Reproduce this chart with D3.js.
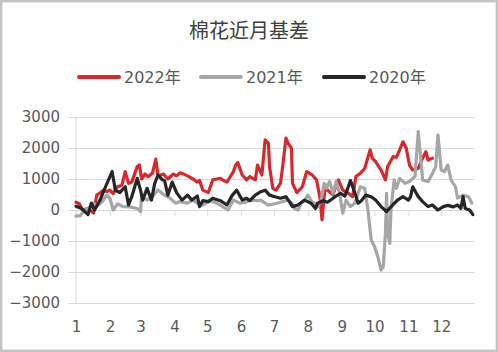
<!DOCTYPE html>
<html>
<head>
<meta charset="utf-8">
<script src="https://cdn.jsdelivr.net/npm/d3@7"></script>
<style>
  body { margin: 0; background: #fff; }
  svg { display: block; }
</style>
</head>
<body>
<div id="chart"></div>
<script>
// ---- data (day of year / basis value) ----
const monthStarts = [1, 32, 60, 91, 121, 152, 182, 213, 244, 274, 305, 335];
const monthLabels = ['1', '2', '3', '4', '5', '6', '7', '8', '9', '10', '11', '12'];
const yTicks = [-3000, -2000, -1000, 0, 1000, 2000, 3000];
const seriesNames = ['2022年', '2021年', '2020年'];

const days2022 = [1, 4, 7, 12, 17, 20, 23, 26, 29, 32, 35, 39, 43, 46, 49, 52, 57, 59, 61, 64, 67, 71, 74, 76, 81, 85, 90, 93, 96, 100,
  103, 108, 112, 114, 117, 122, 126, 130, 133, 136, 139, 145, 147, 149, 153, 157, 160, 165, 167, 171, 174, 177, 178, 181, 184, 188,
  190, 193, 195, 198, 199, 203, 208, 212, 217, 221, 224, 226, 229, 231, 236, 241, 245, 250, 254, 257, 261, 265, 270, 272, 275, 280,
  284, 286, 291, 294, 297, 300, 303, 306, 309, 314, 318, 321, 323, 327];
const values2022 = [250, 200, 0, 50, -100, 480, 550, 640, 600, 640, 530, 750, 800, 1240, 860, 900, 1400, 1450, 1000, 1160, 1070, 1200,
  1640, 1100, 1160, 1000, 1160, 1100, 1200, 1150, 1100, 1000, 900, 950, 640, 560, 970, 1000, 1020, 950, 900, 1240, 1450, 1530, 1130,
  970, 1080, 970, 1450, 1130, 2260, 2150, 1400, 700, 640, 860, 1400, 2320, 2150, 2000, 860, 560, 750, 1240, 1130, 970, 430, -320, 800,
  640, 500, 970, 640, 540, 430, 1080, 1180, 1340, 1940, 1670, 1560, 1290, 970, 1400, 1720, 1700, 1940, 2200, 2000, 1450, 1290, 1340,
  1670, 1880, 1610, 1670];

const days2021 = [1, 5, 9, 14, 17, 20, 25, 29, 32, 35, 39, 44, 50, 57, 60, 61, 66, 71, 76, 81, 87, 92, 96, 103, 108, 112, 117, 124,
  130, 135, 140, 145, 151, 156, 160, 167, 170, 174, 177, 183, 188, 195, 199, 201, 204, 207, 210, 213, 217, 220, 222, 225, 228, 230,
  233, 236, 239, 242, 245, 248, 252, 256, 261, 265, 268, 271, 274, 277, 280, 282, 284, 285, 286, 288, 289, 292, 294, 297, 302, 306,
  311, 314, 317, 318, 323, 327, 330, 332, 335, 338, 341, 344, 348, 350, 355, 360, 363];
const values2021 = [-200, -180, 0, 100, 230, 120, 270, 480, 380, 0, 200, 110, 100, 50, -50, 480, 320, 430, 650, 500, 380, 220, 270,
  220, 320, 220, 160, 300, 220, 110, 0, 320, 220, 250, 320, 300, 320, 220, 160, 200, 250, 320, 200, 50, 0, 220, 300, 480, 250, 220,
  100, 300, 860, 700, 920, 540, 920, 540, -100, 320, 110, 220, 750, 700, 0, -970, -1180, -1500, -1940, -1830, -750, 540, -750, -1080,
  0, 970, 700, 1020, 860, 920, 1080, 2530, 1400, 970, 920, 1180, 1400, 2420, 1290, 1240, 1450, 970, 750, 380, 480, 430, 220];

const days2020 = [1, 6, 12, 15, 18, 23, 28, 34, 37, 41, 46, 49, 52, 57, 60, 62, 66, 70, 73, 76, 80, 82, 85, 89, 93, 98, 103, 107,
  112, 114, 117, 122, 126, 133, 139, 144, 148, 153, 157, 160, 165, 170, 174, 178, 183, 188, 193, 197, 199, 204, 210, 216, 220, 222,
  227, 231, 238, 243, 247, 250, 252, 256, 259, 262, 266, 271, 275, 280, 285, 289, 295, 300, 305, 307, 309, 314, 318, 323, 327, 332,
  337, 341, 346, 350, 353, 355, 357, 361, 364];
const values2020 = [120, 50, -150, 220, 0, 320, 750, 1240, 640, 560, 750, 160, 430, 1020, 640, 320, 700, 320, 860, 1130, 970, 950,
  480, 900, 560, 320, 480, 320, 450, 110, 300, 270, 380, 300, 160, 480, 640, 320, 380, 300, 480, 590, 640, 480, 430, 380, 430, 220,
  110, 160, 320, 220, 50, 220, 300, 250, 430, 540, 450, 750, 950, 560, 220, 300, 480, 430, 320, 110, -50, 100, 320, 430, 320, 430,
  750, 430, 270, 110, 160, 0, 110, 150, 100, 160, 50, 430, 50, 0, -150];

const seriesDays = [days2022, days2021, days2020];
const seriesValues = [values2022, values2021, values2020];
const seriesColors = ['#d9282c', '#a6a6a6', '#262626'];

// ---- layout ----
const width = 498, height = 352;
const plot = { left: 76, right: 474, top: 117, bottom: 303 };
const gridLeft = 68;

const svg = d3.select('#chart')
  .append('svg')
  .attr('width', width)
  .attr('height', height);

svg.append('rect')
  .attr('x', 1.2).attr('y', 1.2)
  .attr('width', width - 2.4).attr('height', height - 2.4)
  .attr('fill', '#fff')
  .attr('stroke', '#c4c4c4')
  .attr('stroke-width', 2.4);

const x = d3.scaleLinear().domain([1, 365]).range([plot.left, plot.right]);
const y = d3.scaleLinear().domain([-3000, 3000]).range([plot.bottom, plot.top]);

const textColor = '#595959';
const gridColor = '#d9d9d9';
const numFont = '"DejaVu Sans", "Noto Sans CJK SC", sans-serif';

// title
svg.append('text')
  .attr('x', 249)
  .attr('y', 29)
  .attr('text-anchor', 'middle')
  .attr('dominant-baseline', 'central')
  .attr('font-family', '"Noto Sans CJK SC", sans-serif')
  .attr('font-size', 20)
  .attr('fill', '#404040')
  .text('棉花近月基差');

// legend
const legendX = [78, 200, 323];
const legend = svg.append('g').attr('class', 'legend');
seriesNames.forEach((name, i) => {
  legend.append('line')
    .attr('x1', legendX[i] + 1).attr('x2', legendX[i] + 41)
    .attr('y1', 77).attr('y2', 77)
    .attr('stroke', seriesColors[i])
    .attr('stroke-width', 4)
    .attr('stroke-linecap', 'round');
  legend.append('text')
    .attr('x', legendX[i] + 46)
    .attr('y', 77)
    .attr('dy', '0.36em')
    .attr('font-family', numFont)
    .attr('font-size', 16)
    .attr('fill', textColor)
    .text(name);
});

// y axis with gridlines
const yAxis = svg.append('g')
  .attr('class', 'axis axis-y')
  .attr('transform', `translate(${gridLeft},0)`)
  .call(d3.axisLeft(y).tickValues(yTicks).tickFormat(d3.format('d'))
    .tickSize(-(plot.right - gridLeft)).tickPadding(8));
yAxis.select('.domain').remove();
yAxis.selectAll('line').attr('stroke', gridColor);
yAxis.selectAll('text')
  .attr('font-family', numFont)
  .attr('font-size', 15)
  .attr('fill', textColor);

// vertical axis line
svg.append('line')
  .attr('x1', plot.left).attr('x2', plot.left)
  .attr('y1', plot.top).attr('y2', plot.bottom)
  .attr('stroke', gridColor);

// month ticks on the zero line
const xTicks = svg.append('g')
  .attr('class', 'axis axis-x')
  .attr('transform', `translate(0,${y(0)})`)
  .call(d3.axisBottom(x).tickValues(monthStarts).tickSize(6).tickFormat(''));
xTicks.select('.domain').remove();
xTicks.selectAll('line').attr('stroke', gridColor);

// month labels at the bottom
const xLabels = svg.append('g')
  .attr('class', 'axis axis-x-labels')
  .attr('transform', 'translate(0,327)')
  .call(d3.axisBottom(x).tickValues(monthStarts).tickSize(0).tickPadding(0)
    .tickFormat((d, i) => monthLabels[i]));
xLabels.select('.domain').remove();
xLabels.selectAll('text')
  .attr('y', 0)
  .attr('dy', '0.36em')
  .attr('font-family', numFont)
  .attr('font-size', 15)
  .attr('fill', textColor);

// series lines (2022 first, 2020 on top)
const line = d3.line()
  .x(d => x(d[0]))
  .y(d => y(d[1]));

seriesNames.forEach((name, i) => {
  const pts = seriesDays[i].map((d, j) => [d, seriesValues[i][j]]);
  svg.append('path')
    .datum(pts)
    .attr('fill', 'none')
    .attr('stroke', seriesColors[i])
    .attr('stroke-width', 3.2)
    .attr('stroke-linejoin', 'round')
    .attr('stroke-linecap', 'round')
    .attr('d', line);
});
</script>
</body>
</html>
